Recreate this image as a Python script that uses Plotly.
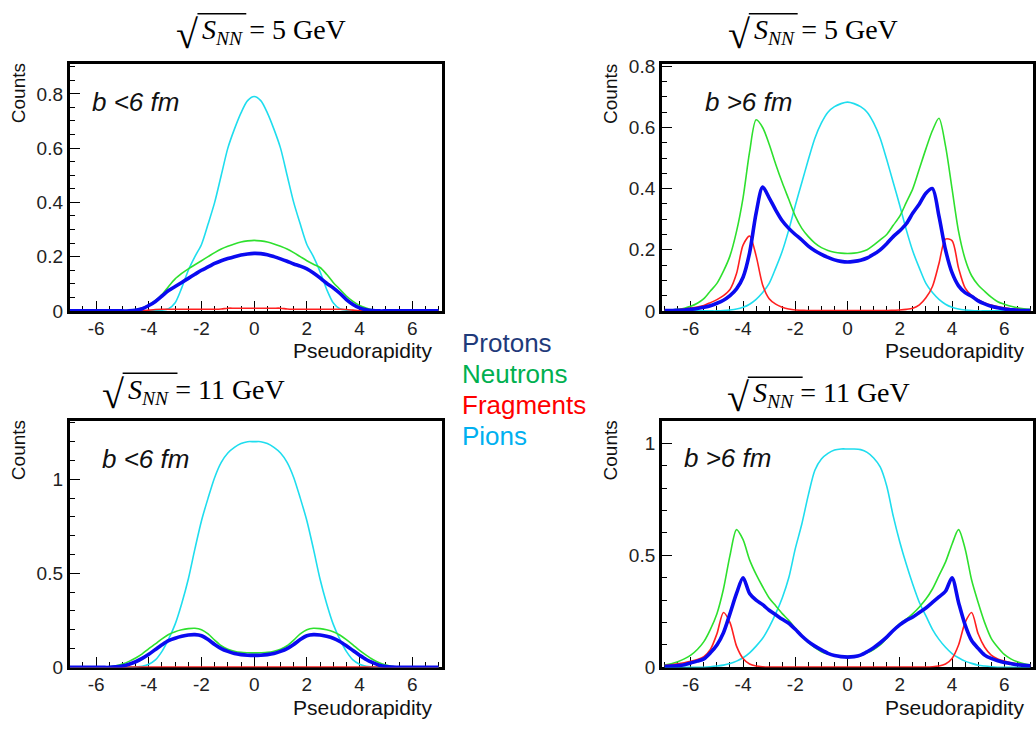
import plotly.graph_objects as go

W, H = 1036, 731

ETA = [-7.0, -6.75, -6.5, -6.25, -6.0, -5.75, -5.5, -5.25, -5.0, -4.75, -4.5, -4.25,
       -4.0, -3.75, -3.5, -3.25, -3.0, -2.75, -2.5, -2.25, -2.0, -1.75, -1.5, -1.25,
       -1.0, -0.75, -0.5, -0.25, 0.0, 0.25, 0.5, 0.75, 1.0, 1.25, 1.5, 1.75,
       2.0, 2.25, 2.5, 2.75, 3.0, 3.25, 3.5, 3.75, 4.0, 4.25, 4.5, 4.75,
       5.0, 5.25, 5.5, 5.75, 6.0, 6.25, 6.5, 6.75, 7.0]

# ---- sqrt(s_NN) = 5 GeV, b < 6 fm ----
pions_5_central = [0, 0, 0, 0, 0, 0, 0, 0, 0, 0, 0, 0,
                   0, 0.001, 0.003, 0.008, 0.03, 0.085, 0.15, 0.20, 0.245, 0.32, 0.40, 0.50,
                   0.60, 0.67, 0.73, 0.775, 0.79, 0.775, 0.73, 0.67, 0.60, 0.50, 0.40, 0.32,
                   0.245, 0.20, 0.145, 0.08, 0.03, 0.008, 0.003, 0.001, 0, 0, 0, 0,
                   0, 0, 0, 0, 0, 0, 0, 0, 0]
neutrons_5_central = [0, 0, 0, 0, 0, 0, 0, 0, 0, 0.002, 0.005, 0.011,
                      0.022, 0.038, 0.06, 0.09, 0.118, 0.138, 0.155, 0.17, 0.185, 0.20, 0.215, 0.228,
                      0.238, 0.247, 0.254, 0.258, 0.26, 0.258, 0.254, 0.247, 0.238, 0.228, 0.215, 0.20,
                      0.185, 0.172, 0.16, 0.135, 0.105, 0.08, 0.055, 0.035, 0.02, 0.011, 0.004, 0.001,
                      0, 0, 0, 0, 0, 0, 0, 0, 0]
protons_5_central = [0, 0, 0, 0, 0, 0, 0, 0, 0, 0, 0.002, 0.008,
                     0.02, 0.035, 0.055, 0.075, 0.09, 0.105, 0.12, 0.135, 0.15, 0.162, 0.175, 0.185,
                     0.193, 0.2, 0.206, 0.21, 0.212, 0.211, 0.207, 0.2, 0.192, 0.183, 0.173, 0.165,
                     0.155, 0.14, 0.122, 0.102, 0.085, 0.065, 0.042, 0.024, 0.011, 0.004, 0.001, 0,
                     0, 0, 0, 0, 0, 0, 0, 0, 0]
fragments_5_central = [0, 0, 0, 0, 0, 0, 0, 0, 0, 0, 0, 0.001,
                       0.003, 0.005, 0.006, 0.006, 0.006, 0.006, 0.006, 0.006, 0.006, 0.006, 0.006, 0.007,
                       0.01, 0.01, 0.01, 0.01, 0.01, 0.01, 0.01, 0.01, 0.01, 0.007, 0.006, 0.006,
                       0.006, 0.006, 0.006, 0.006, 0.006, 0.006, 0.005, 0.003, 0.001, 0, 0, 0,
                       0, 0, 0, 0, 0, 0, 0, 0, 0]

# ---- sqrt(s_NN) = 5 GeV, b > 6 fm ----
pions_5_periph = [0, 0, 0, 0, 0, 0, 0, 0, 0, 0.001, 0.003, 0.006,
                  0.012, 0.022, 0.038, 0.06, 0.09, 0.14, 0.195, 0.265, 0.345, 0.42, 0.495, 0.565,
                  0.615, 0.65, 0.668, 0.678, 0.683, 0.678, 0.668, 0.65, 0.615, 0.565, 0.495, 0.42,
                  0.345, 0.265, 0.195, 0.14, 0.09, 0.06, 0.038, 0.022, 0.012, 0.006, 0.003, 0.001,
                  0, 0, 0, 0, 0, 0, 0, 0, 0]
neutrons_5_periph = [0.002, 0.003, 0.005, 0.009, 0.015, 0.025, 0.04, 0.065, 0.09, 0.13, 0.18, 0.26,
                     0.37, 0.52, 0.625, 0.6, 0.545, 0.48, 0.42, 0.365, 0.31, 0.27, 0.243, 0.222,
                     0.207, 0.198, 0.192, 0.189, 0.188, 0.189, 0.193, 0.2, 0.215, 0.232, 0.25, 0.28,
                     0.31, 0.355, 0.40, 0.465, 0.53, 0.59, 0.63, 0.54, 0.40, 0.26, 0.17, 0.115,
                     0.085, 0.064, 0.045, 0.03, 0.022, 0.015, 0.01, 0.007, 0.005]
protons_5_periph = [0.001, 0.001, 0.002, 0.003, 0.005, 0.008, 0.012, 0.017, 0.025, 0.035, 0.05, 0.072,
                    0.11, 0.19, 0.32, 0.405, 0.37, 0.33, 0.295, 0.27, 0.25, 0.232, 0.212, 0.197,
                    0.185, 0.175, 0.167, 0.162, 0.16, 0.162, 0.166, 0.173, 0.185, 0.2, 0.22, 0.243,
                    0.262, 0.285, 0.32, 0.35, 0.385, 0.40, 0.31, 0.2, 0.125, 0.082, 0.06, 0.048,
                    0.033, 0.023, 0.015, 0.01, 0.006, 0.004, 0.002, 0.001, 0.001]
fragments_5_periph = [0.002, 0.003, 0.004, 0.006, 0.009, 0.013, 0.018, 0.027, 0.037, 0.05, 0.07, 0.122,
                      0.215, 0.245, 0.18, 0.085, 0.04, 0.022, 0.012, 0.006, 0.003, 0.002, 0.001, 0.001,
                      0.001, 0.001, 0.001, 0.001, 0.001, 0.001, 0.001, 0.001, 0.001, 0.001, 0.001, 0.002,
                      0.003, 0.005, 0.009, 0.02, 0.043, 0.08, 0.155, 0.235, 0.23, 0.14, 0.075, 0.05,
                      0.037, 0.026, 0.019, 0.014, 0.01, 0.007, 0.005, 0.003, 0.002]

# ---- sqrt(s_NN) = 11 GeV, b < 6 fm ----
pions_11_central = [0, 0, 0, 0, 0, 0, 0, 0, 0, 0, 0.002, 0.006,
                    0.017, 0.04, 0.085, 0.15, 0.23, 0.34, 0.47, 0.63, 0.78, 0.90, 1.01, 1.09,
                    1.14, 1.17, 1.19, 1.2, 1.2, 1.2, 1.19, 1.17, 1.14, 1.09, 1.01, 0.90,
                    0.78, 0.63, 0.47, 0.34, 0.23, 0.15, 0.085, 0.04, 0.017, 0.006, 0.002, 0,
                    0, 0, 0, 0, 0, 0, 0, 0, 0]
neutrons_11_central = [0, 0, 0, 0, 0, 0, 0.003, 0.008, 0.018, 0.032, 0.05, 0.072,
                       0.1, 0.125, 0.152, 0.175, 0.19, 0.2, 0.206, 0.208, 0.2, 0.178, 0.145, 0.115,
                       0.097, 0.086, 0.08, 0.078, 0.077, 0.078, 0.08, 0.086, 0.097, 0.115, 0.145, 0.178,
                       0.2, 0.208, 0.206, 0.2, 0.19, 0.172, 0.148, 0.12, 0.09, 0.065, 0.042, 0.025,
                       0.013, 0.005, 0.002, 0, 0, 0, 0, 0, 0]
protons_11_central = [0, 0, 0, 0, 0, 0, 0, 0.003, 0.008, 0.017, 0.03, 0.048,
                      0.07, 0.095, 0.12, 0.142, 0.155, 0.165, 0.172, 0.174, 0.168, 0.148, 0.122, 0.1,
                      0.085, 0.074, 0.068, 0.065, 0.064, 0.065, 0.068, 0.074, 0.085, 0.1, 0.122, 0.148,
                      0.168, 0.174, 0.172, 0.165, 0.155, 0.138, 0.115, 0.09, 0.065, 0.042, 0.025, 0.012,
                      0.005, 0.002, 0, 0, 0, 0, 0, 0, 0]
fragments_11_central = [0, 0, 0, 0, 0, 0, 0, 0, 0.001, 0.002, 0.002, 0.002,
                        0.002, 0.002, 0.002, 0.002, 0.002, 0.002, 0.002, 0.002, 0.002, 0.002, 0.002, 0.002,
                        0.002, 0.002, 0.002, 0.002, 0.002, 0.002, 0.002, 0.002, 0.002, 0.002, 0.002, 0.002,
                        0.002, 0.002, 0.002, 0.002, 0.002, 0.002, 0.002, 0.002, 0.002, 0.002, 0.002, 0.002,
                        0.001, 0, 0, 0, 0, 0, 0, 0, 0]

# ---- sqrt(s_NN) = 11 GeV, b > 6 fm ----
pions_11_periph = [0, 0, 0, 0, 0, 0, 0.001, 0.003, 0.006, 0.01, 0.017, 0.028,
                   0.043, 0.065, 0.095, 0.13, 0.18, 0.24, 0.31, 0.40, 0.53, 0.64, 0.77, 0.88,
                   0.93, 0.955, 0.97, 0.975, 0.975, 0.975, 0.972, 0.96, 0.935, 0.895, 0.81, 0.675,
                   0.56, 0.46, 0.37, 0.29, 0.23, 0.17, 0.125, 0.09, 0.062, 0.043, 0.028, 0.018,
                   0.01, 0.006, 0.003, 0.001, 0, 0, 0, 0, 0]
neutrons_11_periph = [0.01, 0.016, 0.025, 0.038, 0.055, 0.08, 0.115, 0.17, 0.24, 0.35, 0.5, 0.615,
                      0.57, 0.48, 0.415, 0.36, 0.31, 0.275, 0.24, 0.21, 0.175, 0.142, 0.11, 0.088,
                      0.07, 0.06, 0.054, 0.051, 0.05, 0.051, 0.055, 0.065, 0.08, 0.1, 0.13, 0.165,
                      0.195, 0.215, 0.24, 0.27, 0.305, 0.35, 0.41, 0.47, 0.55, 0.615, 0.53, 0.39,
                      0.29, 0.2, 0.13, 0.09, 0.058, 0.038, 0.025, 0.016, 0.01]
protons_11_periph = [0.004, 0.006, 0.008, 0.012, 0.02, 0.028, 0.038, 0.065, 0.1, 0.155, 0.24, 0.33,
                     0.40, 0.33, 0.30, 0.28, 0.255, 0.235, 0.215, 0.197, 0.17, 0.14, 0.115, 0.095,
                     0.078, 0.063, 0.053, 0.048, 0.046, 0.048, 0.055, 0.07, 0.088, 0.11, 0.135, 0.165,
                     0.19, 0.21, 0.225, 0.245, 0.265, 0.29, 0.315, 0.34, 0.40, 0.29, 0.19, 0.12,
                     0.085, 0.055, 0.04, 0.03, 0.022, 0.017, 0.012, 0.009, 0.007]
fragments_11_periph = [0.008, 0.012, 0.016, 0.021, 0.027, 0.035, 0.048, 0.08, 0.15, 0.245, 0.2, 0.095,
                       0.04, 0.015, 0.006, 0.003, 0.002, 0.002, 0.002, 0.002, 0.002, 0.002, 0.002, 0.002,
                       0.002, 0.002, 0.002, 0.002, 0.002, 0.002, 0.002, 0.002, 0.002, 0.002, 0.002, 0.002,
                       0.002, 0.002, 0.002, 0.002, 0.002, 0.003, 0.006, 0.015, 0.04, 0.1, 0.2, 0.245,
                       0.15, 0.09, 0.055, 0.038, 0.028, 0.021, 0.016, 0.012, 0.008]

X_TICKS = [-6, -4, -2, 0, 2, 4, 6]
Y_TICKS_5C = [0, 0.2, 0.4, 0.6, 0.8]
Y_TICKS_5P = [0, 0.2, 0.4, 0.6, 0.8]
Y_TICKS_11 = [0, 0.5, 1]
ENERGIES = ["5", "5", "11", "11"]

SPECIES = ["Protons", "Neutrons", "Fragments", "Pions"]
LABEL_COLORS = ["#1F3A7A", "#00B050", "#FF0000", "#00B0F0"]
LINE_COLORS = {"Pions": "#1FDDEE", "Neutrons": "#2EE02E", "Fragments": "#FF2020", "Protons": "#0A0AF0"}
LINE_WIDTHS = {"Pions": 1.6, "Neutrons": 1.6, "Fragments": 1.6, "Protons": 3.6}

def px(x):
    return x / W

def py(y):
    return 1 - y / H

panels = [
    dict(xdom=(70, 443), ydom=(311, 57.5), xr=(-7.0, 7.12), yr=(0, 0.91),
         yt=Y_TICKS_5C, ymin=0.05, cut="b <6 fm", cutpos=(90, 96),
         data={"Pions": pions_5_central, "Neutrons": neutrons_5_central,
               "Fragments": fragments_5_central, "Protons": protons_5_central}),
    dict(xdom=(664, 1036), ydom=(311, 58), xr=(-7.1, 7.1), yr=(0, 0.806),
         yt=Y_TICKS_5P, ymin=0.05, cut="b >6 fm", cutpos=(705, 96),
         data={"Pions": pions_5_periph, "Neutrons": neutrons_5_periph,
               "Fragments": fragments_5_periph, "Protons": protons_5_periph}),
    dict(xdom=(70, 443), ydom=(677, 424), xr=(-7.0, 7.12), yr=(0, 1.31),
         yt=Y_TICKS_11, ymin=0.1, cut="b <6 fm", cutpos=(100, 463),
         data={"Pions": pions_11_central, "Neutrons": neutrons_11_central,
               "Fragments": fragments_11_central, "Protons": protons_11_central}),
    dict(xdom=(664, 1036), ydom=(677, 424), xr=(-7.1, 7.1), yr=(0, 1.1),
         yt=Y_TICKS_11, ymin=0.1, cut="b >6 fm", cutpos=(684, 462),
         data={"Pions": pions_11_periph, "Neutrons": neutrons_11_periph,
               "Fragments": fragments_11_periph, "Protons": protons_11_periph}),
]

fig = go.Figure()
SANS = "Liberation Sans, Arial, sans-serif"
SERIF = "Liberation Serif, Times New Roman, serif"

layout = dict(width=W, height=H, margin=dict(l=0, r=0, t=0, b=0),
              paper_bgcolor="white", plot_bgcolor="white", showlegend=False)

annotations = []
shapes = []
for i, p in enumerate(panels):
    k = "" if i == 0 else str(i + 1)
    xa, ya = "x" + k, "y" + k
    for sp in ["Pions", "Neutrons", "Fragments", "Protons"]:
        vals = p["data"][sp]
        assert len(vals) == len(ETA), (i, sp, len(vals))
        fig.add_trace(go.Scatter(x=ETA, y=vals, mode="lines", xaxis=xa, yaxis=ya,
                                 line=dict(color=LINE_COLORS[sp], width=LINE_WIDTHS[sp],
                                           shape="spline", smoothing=0.8),
                                 name=sp, hoverinfo="skip"))
    layout["xaxis" + k] = dict(
        domain=[px(p["xdom"][0]), px(p["xdom"][1])], range=list(p["xr"]), anchor=ya,
        showline=True, linecolor="black", linewidth=3, mirror=True,
        ticks="inside", ticklen=10, tickwidth=1, tickcolor="black",
        tickvals=X_TICKS, ticktext=[str(v) for v in X_TICKS],
        tickfont=dict(family=SANS, size=19, color="#222"), ticklabelstandoff=-2,
        minor=dict(ticks="inside", ticklen=5, dtick=0.5, tick0=0, tickcolor="black", tickwidth=1),
        showgrid=False, zeroline=False, layer="below traces", fixedrange=True)
    layout["yaxis" + k] = dict(
        domain=[py(p["ydom"][0]), py(p["ydom"][1])], range=list(p["yr"]), anchor=xa,
        showline=True, linecolor="black", linewidth=3, mirror=True,
        ticks="inside", ticklen=10, tickwidth=1, tickcolor="black",
        tickvals=p["yt"], ticktext=[("%g" % v) for v in p["yt"]],
        tickfont=dict(family=SANS, size=19, color="#222"),
        minor=dict(ticks="inside", ticklen=5, dtick=p["ymin"], tick0=0, tickcolor="black", tickwidth=1),
        showgrid=False, zeroline=False, layer="below traces", fixedrange=True)

    x0, x1 = p["xdom"]
    ybot, ytop = p["ydom"]
    annotations.append(dict(text="Counts", textangle=-90, x=px(x0 - 52), y=py(ytop + 30),
                            xref="paper", yref="paper", showarrow=False,
                            font=dict(family=SANS, size=19, color="#111"),
                            xanchor="center", yanchor="middle"))
    annotations.append(dict(text="Pseudorapidity", x=px(x1 - 8 if x1 < 1036 else 1029),
                            y=py(ybot + 41), xref="paper", yref="paper", showarrow=False,
                            font=dict(family=SANS, size=21, color="#111"),
                            xanchor="right", yanchor="middle"))
    annotations.append(dict(text="<i>" + p["cut"] + "</i>", x=px(p["cutpos"][0]), y=py(p["cutpos"][1]),
                            xref="paper", yref="paper", showarrow=False,
                            font=dict(family=SANS, size=26, color="#111"),
                            xanchor="left", yanchor="middle"))

# energy titles: radical sign + S_NN under an overline bar, then "= E GeV"
# (radical right edge x, text centre y, overline y, overline end x)
title_geom = [(200, 24, 6, 247), (753, 24, 6, 800), (125, 394, 375, 178), (752, 397, 379, 805)]
for (rx, cy, oy, ox), e in zip(title_geom, ENERGIES):
    annotations.append(dict(text="√", x=px(rx + 1), y=py(cy + 3), xref="paper", yref="paper",
                            showarrow=False, font=dict(family=SERIF, size=40, color="black"),
                            xanchor="right", yanchor="middle"))
    annotations.append(dict(text="<i>S</i><sub><i>NN</i></sub> = " + e + " GeV",
                            x=px(rx + 1), y=py(cy), xref="paper", yref="paper", showarrow=False,
                            font=dict(family=SERIF, size=28, color="black"),
                            xanchor="left", yanchor="middle"))
    shapes.append(dict(type="line", xref="paper", yref="paper",
                       x0=px(rx - 2), x1=px(ox), y0=py(oy), y1=py(oy),
                       line=dict(color="black", width=1.5)))

# species legend (coloured words)
leg_y = [344, 376, 408, 439]
for name, col, yy in zip(SPECIES, LABEL_COLORS, leg_y):
    annotations.append(dict(text=name, x=px(461), y=py(yy), xref="paper", yref="paper",
                            showarrow=False, font=dict(family=SANS, size=26, color=col),
                            xanchor="left", yanchor="middle"))

layout["annotations"] = annotations
layout["shapes"] = shapes
fig.update_layout(**layout)
fig.write_html("out.html")
